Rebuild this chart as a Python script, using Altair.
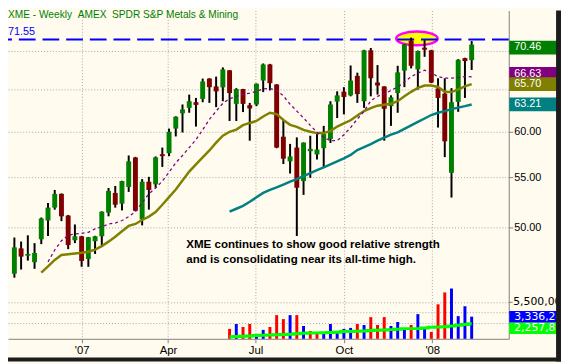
import altair as alt
import pandas as pd

# ---------------- data ----------------
opens = [45.77, 48.04, 47.37, 46.79, 48.88, 50.66, 51.92, 53.30, 51.14, 48.79,
         49.16, 47.08, 48.70, 49.16, 51.43, 53.40, 52.31, 54.01, 57.14, 50.76,
         54.55, 54.28, 57.49, 57.60, 60.37, 62.15, 62.80, 63.48, 63.88, 66.41,
         65.42, 65.30, 67.46, 63.28, 65.09, 63.12, 63.21, 66.16, 68.22, 65.67,
         59.44, 56.71, 58.22, 54.62, 57.82, 57.46, 58.15, 59.18, 63.56, 64.77,
         64.32, 66.75, 63.60, 70.09, 65.91, 65.42, 63.01, 64.60, 67.42, 71.40,
         67.58, 70.44, 70.09, 65.17, 64.53, 55.48, 63.52, 69.05, 68.79]
highs = [49.04, 48.67, 49.25, 48.52, 50.95, 52.38, 53.70, 53.35, 51.20, 50.28,
         49.20, 49.10, 49.20, 51.55, 53.90, 54.11, 54.65, 57.35, 57.20, 54.82,
         55.06, 57.25, 58.22, 60.37, 61.80, 63.21, 64.41, 64.00, 66.41, 66.45,
         66.66, 67.84, 67.50, 65.21, 65.12, 63.40, 65.80, 68.35, 68.30, 65.70,
         61.37, 58.63, 59.36, 58.80, 59.55, 59.74, 60.68, 63.60, 64.81, 65.33,
         68.09, 67.16, 70.15, 70.40, 68.14, 65.45, 64.32, 68.05, 70.95, 71.80,
         70.05, 71.45, 70.15, 66.45, 66.45, 65.21, 68.92, 69.10, 71.33]
lows = [45.43, 46.14, 46.93, 46.20, 48.43, 49.19, 51.72, 50.60, 47.97, 48.52,
        46.38, 46.38, 47.53, 48.16, 51.07, 51.92, 51.65, 53.50, 51.55, 50.19,
        51.72, 53.93, 56.11, 57.28, 59.47, 59.92, 62.22, 60.60, 63.48, 63.40,
        62.89, 63.60, 61.25, 61.25, 62.30, 58.99, 63.01, 64.72, 64.93, 58.15,
        56.42, 55.41, 49.19, 53.20, 54.96, 56.92, 56.11, 58.74, 61.60, 62.03,
        64.20, 63.40, 62.80, 64.20, 64.41, 58.99, 60.68, 62.22, 65.33, 67.71,
        65.02, 69.22, 65.83, 60.49, 57.17, 52.93, 62.33, 64.00, 67.51]
closes = [48.13, 47.29, 47.53, 47.62, 50.85, 51.92, 53.30, 51.07, 48.34, 49.16,
          46.90, 49.07, 49.16, 51.53, 53.60, 52.21, 54.62, 56.71, 51.62, 54.55,
          53.70, 57.14, 57.28, 60.00, 61.75, 62.62, 63.60, 63.16, 66.04, 65.33,
          64.81, 67.58, 64.60, 65.09, 63.28, 62.73, 65.75, 68.22, 65.83, 58.22,
          57.00, 57.25, 53.93, 58.77, 58.08, 58.00, 59.74, 63.21, 64.32, 64.12,
          66.16, 64.48, 70.09, 66.45, 65.54, 62.69, 64.08, 67.20, 70.89, 68.05,
          70.00, 70.17, 65.91, 64.00, 58.92, 63.48, 68.83, 68.66, 70.85]

first_week = "2006-10-23"
weeks = pd.date_range(first_week, periods=len(closes), freq="7D").strftime("%Y-%m-%d").tolist()

# purple dashed average (from week 6)
ma_fast = [46.82, 47.89, 48.75, 49.25, 49.39, 49.44, 49.53, 49.86, 50.05, 50.33,
           50.42, 50.66, 51.04, 51.53, 52.41, 53.30, 53.90, 54.62, 55.55, 56.55,
           57.35, 58.22, 59.10, 60.23, 61.43, 62.41, 63.36, 63.90, 64.20, 64.44,
           64.60, 64.81, 65.11, 65.17, 64.93, 64.26, 63.24, 62.41, 61.60, 60.74,
           59.94, 59.38, 58.99, 58.99, 59.67, 60.49, 61.48, 62.41, 63.66, 64.20,
           64.50, 64.93, 65.36, 65.98, 66.66, 67.10, 67.48, 67.10, 66.66, 66.47,
           66.47, 66.54, 66.66, 66.63]
# olive average (from week 5)
ma_mid = [45.86, 46.42, 46.99, 47.44, 47.50, 47.57, 47.64, 47.73, 47.93, 48.25,
          48.66, 49.12, 49.63, 50.14, 50.33, 50.71, 51.04, 51.48, 52.21, 52.97,
          53.75, 54.67, 55.62, 56.39, 57.14, 57.90, 58.77, 59.55, 60.00, 60.25,
          60.76, 61.02, 61.25, 61.77, 62.22, 62.06, 61.37, 60.80, 60.57, 60.21,
          60.00, 59.85, 59.85, 60.09, 60.60, 60.98, 61.33, 61.89, 62.42, 62.77,
          63.06, 63.18, 63.30, 63.60, 64.20, 64.75, 65.24, 65.54, 65.54, 65.36,
          64.75, 64.72, 65.05, 65.42, 65.70]
# teal average (from week 33)
ma_slow = [51.53, 51.81, 52.10, 52.50, 52.95, 53.40, 53.70, 53.96, 54.26, 54.57,
           54.82, 55.13, 55.45, 55.76, 56.07, 56.39, 56.71, 57.03, 57.41, 57.95,
           58.28, 58.61, 58.99, 59.33, 59.67, 59.94, 60.34, 60.74, 61.14, 61.54,
           61.95, 62.22, 62.41, 62.65, 62.83, 63.01, 63.21]

# weekly volume (from week 33), shares
volumes = [1490000, 2230000, 1780000, 2230000, 740000, 1340000, 1780000, 3570000, 2970000, 3570000,
           3570000, 1930000, 1190000, 1040000, 890000, 2230000, 890000, 1490000, 1640000, 2230000,
           2080000, 3270000, 2080000, 3270000, 1930000, 2530000, 1490000, 2080000, 3720000, 1780000,
           1040000, 5200000, 6990000, 7580000, 3420000, 4910000, 3336249]
vol_dir = ["down", "up", "down", "down", "up", "up", "down", "down", "down", "up",
           "down", "up", "down", "down", "up", "up", "up", "up", "up", "down",
           "up", "down", "down", "down", "up", "up", "up", "down", "up", "up",
           "down", "down", "down", "up", "up", "up", "up"]
vol_avg = [300000, 330000, 370000, 420000, 490000, 530000, 570000, 600000, 640000, 700000,
           770000, 840000, 870000, 890000, 910000, 940000, 1000000, 1090000, 1110000, 1140000,
           1190000, 1240000, 1290000, 1330000, 1380000, 1450000, 1530000, 1530000, 1530000, 1630000,
           1730000, 1780000, 1830000, 1930000, 2040000, 2150000, 2257810]

price_ticks = [50, 55, 60, 65, 70]
volume_grid = [2400000, 4000000, 5500000]
all_time_high = 71.55
last_price = 70.46
highlight_week = "2007-12-16"
highlight_price = 71.69
title_text = "XME - Weekly\u00a0\u00a0AMEX\u00a0\u00a0SPDR S&P Metals & Mining"
note_lines = ["XME continues to show good relative strength",
              "and is consolidating near its all-time high."]
note_week = "2007-04-20"
note_prices = [48.04, 46.73]

# ---------------- styles ----------------
FONT = "Liberation Sans"
VFONT = "DejaVu Sans"
CREAM = "#FFFBEF"
DARK = "#1C1C1C"
GRID = "#A8A8A8"
AXIS_GREY = "#808080"
UP = "#008000"
DOWN = "#800000"
C_FAST = "#800080"
C_MID = "#808000"
C_SLOW = "#008080"
W, H = 508, 333

ELLIPSE = ("M-1,0C-1,-0.184 -0.552,-0.333 0,-0.333C0.552,-0.333 1,-0.184 1,0"
           "C1,0.184 0.552,0.333 0,0.333C-0.552,0.333 -1,0.184 -1,0Z")
PBOX = "M-1,-0.2745L1,-0.2745L1,0.2745L-1,0.2745Z"
VBOX = "M-1,-0.2275L1,-0.2275L1,0.2275L-1,0.2275Z"

X_SCALE = alt.Scale(type="utc", domain=[
    alt.DateTime(year=2006, month=10, date=21, hours=11, minutes=47, utc=True),
    alt.DateTime(year=2008, month=3, date=15, hours=11, minutes=33, utc=True)])
X_AXIS = alt.Axis(
    values=[alt.DateTime(year=2007, month=1, date=1, utc=True),
            alt.DateTime(year=2007, month=4, date=1, utc=True),
            alt.DateTime(year=2007, month=7, date=1, utc=True),
            alt.DateTime(year=2007, month=10, date=1, utc=True),
            alt.DateTime(year=2008, month=1, date=1, utc=True)],
    labelExpr="utcFormat(datum.value,'%m')=='01' ? \"'\"+utcFormat(datum.value,'%y') : utcFormat(datum.value,'%b')",
    title=None, grid=True, gridColor=GRID, gridDash=[1, 2], gridWidth=1,
    domainColor=AXIS_GREY, domainWidth=1, tickColor=AXIS_GREY, tickSize=4,
    labelPadding=2, labelFont=FONT, labelFontSize=11.5, labelColor="black",
    labelBaseline="top", labelFlush=False, labelOverlap=False)

P_SCALE = alt.Scale(type="log", domain=[40.43, 75.61], nice=False)
# the 65 and 70 labels sit under the coloured last-value boxes in the reference
P_AXIS = alt.Axis(orient="right", values=price_ticks, title=None,
                  labelExpr="datum.value >= 65 ? '' : format(datum.value, '.2f')",
                  grid=True, gridColor=GRID, gridDash=[1, 2], gridWidth=1,
                  domainColor=AXIS_GREY, domainWidth=1, tickColor=AXIS_GREY, tickSize=4,
                  labelPadding=1, labelFont=FONT, labelFontSize=11, labelColor="black",
                  labelFlush=False, labelOverlap=False)
V_SCALE = alt.Scale(domain=[0, 49500000], nice=False, zero=True)
V_AXIS = alt.Axis(orient="left", values=volume_grid, labels=False, ticks=False,
                  domain=False, grid=True, gridColor=GRID, gridDash=[1, 2],
                  gridWidth=1, title=None)


def X():
    return alt.X("date:T", scale=X_SCALE, axis=X_AXIS)


def PY(field):
    return alt.Y(f"{field}:Q", scale=P_SCALE, axis=P_AXIS)


def VY(field):
    return alt.Y(f"{field}:Q", scale=V_SCALE, axis=V_AXIS)


# ---------------- tables ----------------
price_df = pd.DataFrame({"date": weeks, "open": opens, "high": highs,
                         "low": lows, "close": closes})
fast_df = pd.DataFrame({"date": weeks[len(weeks) - len(ma_fast):], "ma": ma_fast})
mid_df = pd.DataFrame({"date": weeks[len(weeks) - len(ma_mid):], "ma": ma_mid})
slow_df = pd.DataFrame({"date": weeks[len(weeks) - len(ma_slow):], "ma": ma_slow})
vol_df = pd.DataFrame({"date": weeks[len(weeks) - len(volumes):], "volume": volumes,
                       "dir": vol_dir, "avg": vol_avg})
ell_df = pd.DataFrame({"date": [highlight_week], "price": [highlight_price]})
ath_df = pd.DataFrame({"price": [all_time_high], "label": [f"{all_time_high:.2f}"]})
note_df = pd.DataFrame({"date": [note_week] * 2, "price": note_prices, "text": note_lines})
title_df = pd.DataFrame({"t": [title_text]})

last_df = pd.DataFrame({
    "value": [last_price, ma_slow[-1], ma_fast[-1], ma_mid[-1]],
    "series": ["close", "slow", "fast", "mid"]})
last_df["label"] = last_df["value"].map(lambda v: f"{v:.2f}")
SERIES_SCALE = alt.Scale(domain=["close", "slow", "fast", "mid"],
                         range=[UP, C_SLOW, C_FAST, C_MID])

# ---------------- price layers ----------------
ellipse = alt.Chart(ell_df).mark_point(
    shape=ELLIPSE, size=1764, filled=True, fill="#FFFF00", stroke="#FF00FF",
    strokeWidth=2.5, opacity=1).encode(x=X(), y=PY("price"))

ath_line = alt.Chart(ath_df).mark_rule(
    color="#0000FF", strokeWidth=2, strokeDash=[17, 7]).encode(y=PY("price"))
ath_text = alt.Chart(ath_df).mark_text(
    align="left", baseline="alphabetic", dy=-5, color="#0000FF", font=FONT,
    fontSize=11).encode(x=alt.value(0), y=PY("price"), text="label:N")

wicks = alt.Chart(price_df).mark_rule(color="black", strokeWidth=2).encode(
    x=X(), y=PY("low"), y2="high:Q")
bodies = alt.Chart(price_df).mark_bar(size=5).encode(
    x=X(), y=PY("open"), y2="close:Q",
    color=alt.condition("datum.close >= datum.open", alt.value(UP), alt.value(DOWN)))

line_slow = alt.Chart(slow_df).mark_line(color=C_SLOW, strokeWidth=2.5).encode(x=X(), y=PY("ma"))
line_mid = alt.Chart(mid_df).mark_line(color=C_MID, strokeWidth=2.5).encode(x=X(), y=PY("ma"))
line_fast = alt.Chart(fast_df).mark_line(color=C_FAST, strokeWidth=1.3,
                                         strokeDash=[3, 3]).encode(x=X(), y=PY("ma"))

notes = alt.Chart(note_df).mark_text(
    align="left", baseline="alphabetic", font=FONT, fontSize=11.7,
    fontWeight="bold", color="black").encode(x=X(), y=PY("price"), text="text:N")

title = alt.Chart(title_df).mark_text(
    align="left", baseline="alphabetic", font=FONT, fontSize=10.3,
    color="#008000").encode(x=alt.value(0), y=alt.value(7.5), text="t:N")


def label_layers(df, shift=0):
    box = alt.Chart(df).mark_point(
        shape=PBOX, size=2601, filled=True, opacity=1, strokeWidth=0,
        yOffset=shift).encode(
        x=alt.value(534), y=PY("value"),
        fill=alt.Fill("series:N", scale=SERIES_SCALE, legend=None))
    txt = alt.Chart(df).mark_text(
        align="left", baseline="middle", color="white", font=FONT,
        fontSize=11, yOffset=shift).encode(x=alt.value(513.5), y=PY("value"), text="label:N")
    return [box, txt]


labels_a = label_layers(last_df[last_df["series"].isin(["close", "slow"])])
labels_f = label_layers(last_df[last_df["series"] == "fast"], shift=-3)
labels_m = label_layers(last_df[last_df["series"] == "mid"])

price_layer = alt.layer(ellipse, ath_line, wicks, bodies, line_slow, line_mid,
                        line_fast, ath_text, notes, title, *labels_a, *labels_f,
                        *labels_m)

# ---------------- volume layers ----------------
vbars = alt.Chart(vol_df).mark_bar(size=3).encode(
    x=X(), y=VY("volume"),
    color=alt.Color("dir:N", scale=alt.Scale(domain=["up", "down"],
                                             range=["#0000FF", "#FF0000"]), legend=None))
vavg = alt.Chart(vol_df).mark_line(color="#00FF00", strokeWidth=3,
                                   interpolate="step").encode(x=X(), y=VY("avg"))

vlab_df = pd.DataFrame({"value": [5500000], "label": ["5,500,000"]})
vtick = alt.Chart(vlab_df).mark_rule(color=AXIS_GREY).encode(
    x=alt.value(W), x2=alt.value(W + 4), y=VY("value"))
vlab = alt.Chart(vlab_df).mark_text(
    align="left", baseline="middle", color="black", font=VFONT, fontSize=11).encode(
    x=alt.value(512.5), y=VY("value"), text="label:N")

avg_last = pd.DataFrame({"value": [vol_avg[-1]], "label": [f"{vol_avg[-1]:,}"]})
vol_last = pd.DataFrame({"value": [volumes[-1]], "label": [f"{volumes[-1]:,}"]})
avg_box = alt.Chart(avg_last).mark_point(
    shape=VBOX, size=2601, filled=True, opacity=1, strokeWidth=0, fill="#00FF00",
    yOffset=4.5).encode(x=alt.value(534), y=VY("value"))
avg_txt = alt.Chart(avg_last).mark_text(
    align="left", baseline="middle", color="white", font=VFONT, fontSize=11,
    yOffset=4.5).encode(x=alt.value(513.5), y=VY("value"), text="label:N")
vol_box = alt.Chart(vol_last).mark_point(
    shape=VBOX, size=2601, filled=True, opacity=1, strokeWidth=0,
    fill="#0000FF").encode(x=alt.value(534), y=VY("value"))
vol_txt = alt.Chart(vol_last).mark_text(
    align="left", baseline="middle", color="white", font=VFONT, fontSize=11).encode(
    x=alt.value(513.5), y=VY("value"), text="label:N")

frame_df = pd.DataFrame({"k": [0]})
right_border = alt.Chart(frame_df).mark_rect(color=DARK).encode(
    x=alt.value(556), x2=alt.value(561), y=alt.value(0), y2=alt.value(356))
bottom_border = alt.Chart(frame_df).mark_rect(color=DARK).encode(
    x=alt.value(0), x2=alt.value(561), y=alt.value(352), y2=alt.value(356))

volume_layer = alt.layer(vbars, vavg, vtick, vlab, avg_box, avg_txt, vol_box,
                         vol_txt, right_border, bottom_border)

chart = alt.layer(price_layer, volume_layer).resolve_scale(y="independent").properties(
    width=W, height=H,
    autosize=alt.AutoSizeParams(type="none"),
    padding={"left": 0, "top": 0, "right": 53, "bottom": 23},
    background=CREAM,
).configure_view(stroke=None)

chart.save("out.html", embed_options={"renderer": "svg", "actions": False})
